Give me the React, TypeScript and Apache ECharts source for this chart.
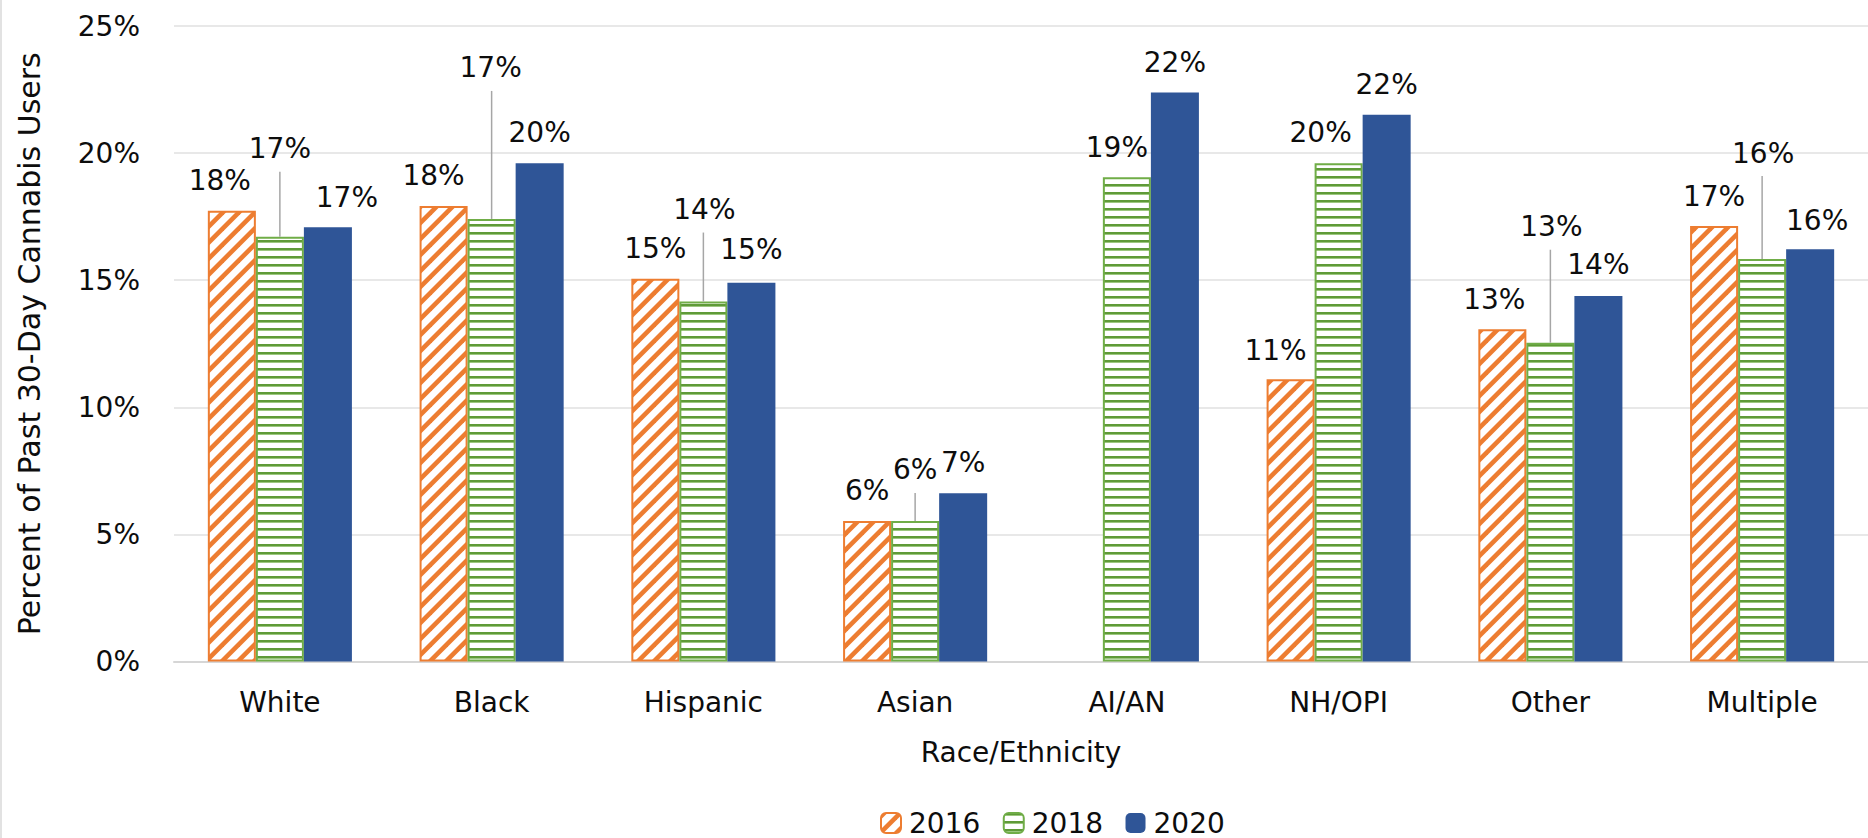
import React, { useEffect, useRef } from "react";
import * as echarts from "echarts";

// ---- data ----
const categories = ["White", "Black", "Hispanic", "Asian", "AI/AN", "NH/OPI", "Other", "Multiple"];
const seriesNames = ["2016", "2018", "2020"];
const values2016 = [17.73, 17.92, 15.06, 5.53, null, 11.1, 13.07, 17.13];
const values2018 = [16.71, 17.41, 14.16, 5.53, 19.05, 19.6, 12.54, 15.83];
const values2020 = [17.08, 19.6, 14.9, 6.62, 22.38, 21.51, 14.38, 16.22];
const yMin = 0;
const yMax = 25;
const yStep = 5;
const xTitle = "Race/Ethnicity";
const yTitle = "Percent of Past 30-Day Cannabis Users";

// ---- label layout nudges (pixels, layout only) ----
const labelShiftX = [
  [-12, -10, 0, 0, 0, -15, -8, 0],
  [0, -1, 1, 0, -10, -18, 1, 1],
  [19, 0, 0, 0, 0, 0, 0, 7],
];
const labelLift = [
  [30, 30, 30, 30, 30, 29, 30, 30],
  [88, 151, 92, 51, 30, 31, 116, 106],
  [30, 31, 33, 31, 30, 30, 31, 29],
];

const FONT = "DejaVu Sans";
const BAR_FRAC = 0.2268;
const ORANGE = "#ED7D31";
const GREEN = "#70AD47";
const BLUE = "#2F5597";
const TEXT = "#0d0d0d";

function makeDiagonal(): HTMLCanvasElement {
  const c = document.createElement("canvas");
  c.width = 16;
  c.height = 16;
  const ctx = c.getContext("2d")!;
  ctx.fillStyle = "#ffffff";
  ctx.fillRect(0, 0, 16, 16);
  ctx.fillStyle = ORANGE;
  for (const k of [-16, 0, 16, 32]) {
    ctx.beginPath();
    ctx.moveTo(k, 0);
    ctx.lineTo(k + 6.5, 0);
    ctx.lineTo(k + 6.5 - 16, 16);
    ctx.lineTo(k - 16, 16);
    ctx.closePath();
    ctx.fill();
  }
  return c;
}

function makeHorizontal(): HTMLCanvasElement {
  const c = document.createElement("canvas");
  c.width = 8;
  c.height = 8;
  const ctx = c.getContext("2d")!;
  ctx.fillStyle = "#ffffff";
  ctx.fillRect(0, 0, 8, 8);
  ctx.fillStyle = "#5f9a38";
  ctx.fillRect(0, 0, 8, 2);
  ctx.fillStyle = "#9cc77f";
  ctx.fillRect(0, 2, 8, 1);
  return c;
}

export default function App() {
  const ref = useRef<HTMLDivElement>(null);

  useEffect(() => {
    document.body.style.margin = "0";
    if (!ref.current) return;
    const chart = echarts.init(ref.current, undefined, { renderer: "svg" });

    const diag = makeDiagonal();
    const horiz = makeHorizontal();
    const diagPattern: any = { image: diag, repeat: "repeat", imageWidth: 16, imageHeight: 16 };
    const horizPattern: any = { image: horiz, repeat: "repeat", imageWidth: 8, imageHeight: 8 };

    const allValues = [values2016, values2018, values2020];
    const labelRows: any[] = [];
    allValues.forEach((arr, s) => {
      arr.forEach((v, i) => {
        if (v == null) return;
        labelRows.push([i, v, s, labelShiftX[s][i], labelLift[s][i]]);
      });
    });

    const barW = (BAR_FRAC * 100).toFixed(2) + "%";

    const option: any = {
      animation: false,
      backgroundColor: "#ffffff",
      textStyle: { fontFamily: FONT },
      grid: { left: 174, top: 26, width: 1714.4, height: 635.5, containLabel: false },
      legend: {
        data: seriesNames,
        left: 880,
        top: 809,
        padding: 0,
        itemWidth: 20,
        itemHeight: 20,
        itemGap: 22.5,
        textStyle: {
          fontSize: 28,
          fontFamily: FONT,
          color: TEXT,
          lineHeight: 24,
          padding: [0, 0, 4, 3],
        },
      },
      xAxis: {
        type: "category",
        data: categories,
        axisTick: { show: false },
        axisLine: { show: true, lineStyle: { color: "#d6d6d6", width: 2 } },
        axisLabel: { fontSize: 28, fontFamily: FONT, color: TEXT, margin: 27 },
        name: xTitle,
        nameLocation: "middle",
        nameGap: 77,
        nameTextStyle: { fontSize: 28, fontFamily: FONT, color: TEXT },
      },
      yAxis: {
        type: "value",
        min: yMin,
        max: yMax,
        interval: yStep,
        axisLine: { show: false },
        axisTick: { show: false },
        axisLabel: { formatter: "{value}%", fontSize: 28, fontFamily: FONT, color: TEXT, margin: 34 },
        splitLine: { lineStyle: { color: "#e8e8e8", width: 2 } },
        name: yTitle,
        nameLocation: "middle",
        nameGap: 130,
        nameRotate: 90,
        nameTextStyle: { fontSize: 30, fontFamily: FONT, color: TEXT },
      },
      series: [
        {
          name: seriesNames[0],
          type: "bar",
          data: values2016,
          barWidth: barW,
          barGap: "0%",
          itemStyle: { color: diagPattern, borderColor: ORANGE, borderWidth: 2 },
        },
        {
          name: seriesNames[1],
          type: "bar",
          data: values2018,
          barWidth: barW,
          barGap: "0%",
          itemStyle: { color: horizPattern, borderColor: GREEN, borderWidth: 2 },
        },
        {
          name: seriesNames[2],
          type: "bar",
          data: values2020,
          barWidth: barW,
          barGap: "0%",
          itemStyle: { color: BLUE },
        },
        {
          name: "labels",
          type: "custom",
          silent: true,
          z: 10,
          data: labelRows,
          encode: { x: 0, y: 1 },
          renderItem: (params: any, api: any) => {
            const ci = api.value(0);
            const v = api.value(1);
            const s = api.value(2);
            const dx = api.value(3);
            const lift = api.value(4);
            const pt = api.coord([ci, v]);
            const bw = api.size([1, 0])[0] * BAR_FRAC;
            const bx = pt[0] + (s - 1) * bw;
            const tx = bx + dx;
            const ty = pt[1] - lift;
            const children: any[] = [];
            if (lift > 45) {
              children.push({
                type: "line",
                shape: { x1: bx, y1: ty + 23, x2: bx, y2: pt[1] },
                style: { stroke: "#a6a6a6", lineWidth: 1.5 },
              });
            }
            children.push({
              type: "text",
              x: tx,
              y: ty,
              style: {
                text: Math.round(v) + "%",
                fill: TEXT,
                fontSize: 28,
                fontFamily: FONT,
                align: "center",
                verticalAlign: "middle",
              },
            });
            return { type: "group", children };
          },
        },
      ],
      graphic: [
        {
          type: "line",
          shape: { x1: 1, y1: 0, x2: 1, y2: 838 },
          style: { stroke: "#d9d9d9", lineWidth: 1.5 },
        },
      ],
    };

    chart.setOption(option);
    return () => chart.dispose();
  }, []);

  return (
    <div
      ref={ref}
      style={{ position: "absolute", left: 0, top: 0, width: 1868, height: 838 }}
    />
  );
}
